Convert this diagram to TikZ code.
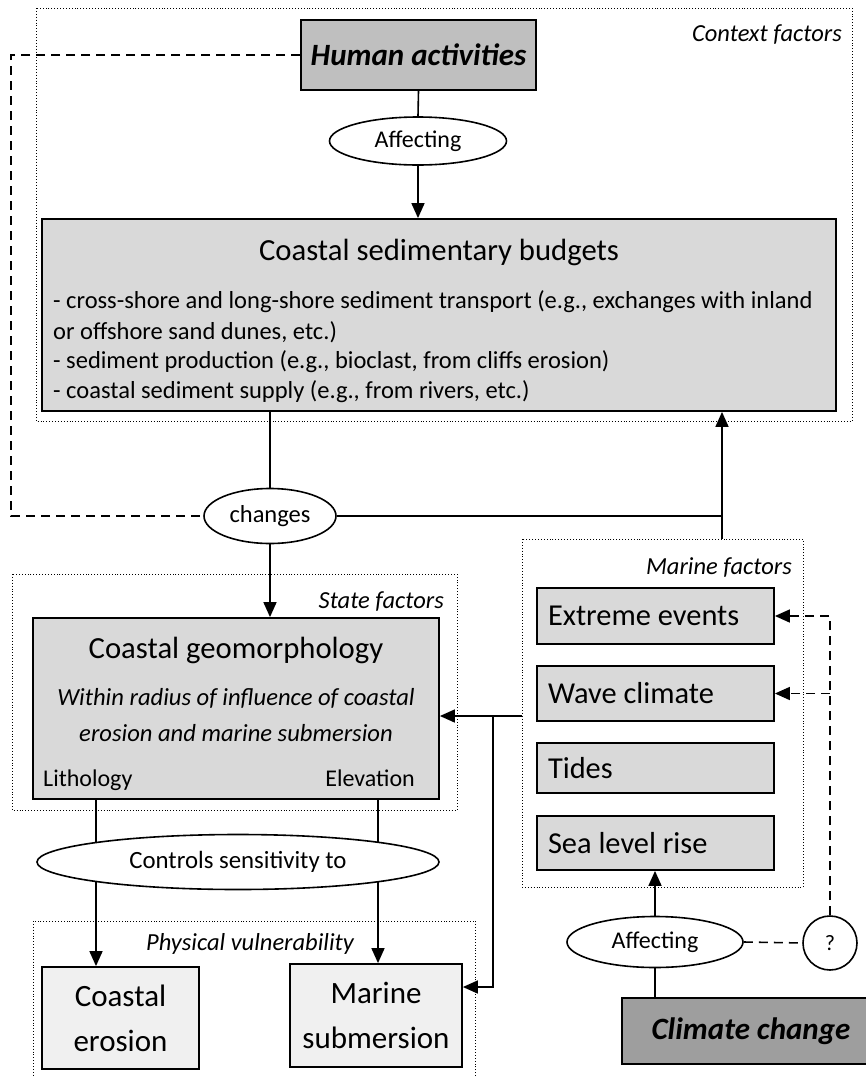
\documentclass[tikz,border=0pt]{standalone}
\usepackage{fontspec}
\setmainfont{Carlito}
\usetikzlibrary{arrows.meta,shapes.geometric}
\pgfdeclarelayer{bg}
\pgfsetlayers{bg,main}

\begin{document}
\begin{tikzpicture}[x=1pt,y=-1pt,
    box/.style={draw,line width=1.8pt,fill=#1,inner sep=0pt},
    box/.default=black!15,
    oval/.style={draw,ellipse,line width=1.6pt,fill=white,inner sep=0pt},
    txt/.style={inner sep=0pt},
    frame/.style={line width=0.9pt,dotted},
    link/.style={line width=1.6pt},
    arr/.style={link,-{Triangle[length=15pt,width=13pt]}},
    dashline/.style={link,dash pattern=on 9pt off 6pt}]
    \useasboundingbox (0,0) rectangle (866,1077);
    \begin{pgfonlayer}{bg}
      \fill[white] (0,0) rectangle (866,1077);
    \end{pgfonlayer}
    % dotted groups
    \draw[frame] (36,8) rectangle (852,421);
    \draw[frame] (12,574) rectangle (457,810);
    \draw[frame] (522,539) rectangle (803,887);
    \draw[frame] (33,921) rectangle (475,1082);
    \node[txt,anchor=east,font=\fontsize{24.5}{29}\selectfont\itshape] (ctxlabel) at (842,35) {Context factors};
    \node[txt,anchor=east,font=\fontsize{24.5}{29}\selectfont\itshape] (statelabel) at (444,602) {State factors};
    \node[txt,anchor=east,font=\fontsize{24.5}{29}\selectfont\itshape] (marinelabel) at (792,567) {Marine factors};
    \node[txt,font=\fontsize{24.5}{29}\selectfont\itshape] (physlabel) at (250,944) {Physical vulnerability};
    % top part
    \node[box=black!25,minimum width=235pt,minimum height=70pt,font=\fontsize{31}{37}\selectfont\bfseries\itshape] (human) at (418.5,55) {Human activities};
    \node[oval,minimum width=177pt,minimum height=48pt,font=\fontsize{24}{29}\selectfont] (aff1) at (418,141) {Affecting};
    \node[box,minimum width=794pt,minimum height=192pt] (budget) at (439,315) {};
    \node[txt,font=\fontsize{30.7}{37}\selectfont] (budgettitle) at (439,252) {Coastal sedimentary budgets};
    \node[txt,anchor=west,font=\fontsize{24.5}{30}\selectfont] (b1) at (53,302) {- cross-shore and long-shore sediment transport (e.g., exchanges with inland};
    \node[txt,anchor=west,font=\fontsize{24.5}{30}\selectfont] (b2) at (53,332) {or offshore sand dunes, etc.)};
    \node[txt,anchor=west,font=\fontsize{24.5}{30}\selectfont] (b3) at (53,362) {- sediment production (e.g., bioclast, from cliffs erosion)};
    \node[txt,anchor=west,font=\fontsize{24.5}{30}\selectfont] (b4) at (53,392) {- coastal sediment supply (e.g., from rivers, etc.)};
    \node[oval,minimum width=132pt,minimum height=55pt,font=\fontsize{24.5}{29}\selectfont] (changes) at (270,516) {changes};
    % state factors
    \node[box,minimum width=406pt,minimum height=181pt] (geo) at (236,708.5) {};
    \node[txt,font=\fontsize{30.7}{37}\selectfont] (geotitle) at (236,650) {Coastal geomorphology};
    \node[txt,font=\fontsize{24.6}{29}\selectfont\itshape] (geo1) at (236,698) {Within radius of influence of coastal};
    \node[txt,font=\fontsize{24.6}{29}\selectfont\itshape] (geo2) at (236,733) {erosion and marine submersion};
    \node[txt,anchor=base west,font=\fontsize{24}{29}\selectfont] (lithlabel) at (43,786) {Lithology};
    \node[txt,anchor=base east,font=\fontsize{24}{29}\selectfont] (elevlabel) at (415,786) {Elevation};
    \coordinate (lith) at (96,799);
    \coordinate (elev) at (378,799);
    % marine factors
    \node[box,minimum width=237pt,minimum height=56pt,text width=215pt,align=flush left,font=\fontsize{30.4}{36}\selectfont] (extreme) at (655.5,616) {Extreme events};
    \node[box,minimum width=237pt,minimum height=55pt,text width=215pt,align=flush left,font=\fontsize{30.4}{36}\selectfont] (wave) at (655.5,693.5) {Wave climate};
    \node[box,minimum width=237pt,minimum height=50pt,text width=215pt,align=flush left,font=\fontsize{30.4}{36}\selectfont] (tides) at (655.5,768) {Tides};
    \node[box,minimum width=237pt,minimum height=54pt,text width=215pt,align=flush left,font=\fontsize{30.4}{36}\selectfont] (slr) at (655.5,843) {Sea level rise};
    \coordinate (mtop) at (722,539);
    \coordinate (mleft) at (522,716);
    \coordinate (split) at (493,716);
    % bottom part
    \node[oval,minimum width=402pt,minimum height=55pt,font=\fontsize{24.8}{29}\selectfont] (ctrl) at (238,862) {Controls sensitivity to};
    \node[box=black!6,minimum width=157pt,minimum height=102pt,align=center,font=\fontsize{31}{45}\selectfont] (erosion) at (120.5,1018) {Coastal\\erosion};
    \node[box=black!6,minimum width=172pt,minimum height=103pt,align=center,font=\fontsize{31}{45}\selectfont] (subm) at (376,1015.5) {Marine\\submersion};
    \node[box=black!38,minimum width=258pt,minimum height=66pt,font=\fontsize{31}{37}\selectfont\bfseries\itshape] (climate) at (751,1031) {Climate change};
    \node[oval,minimum width=176pt,minimum height=51pt,font=\fontsize{24}{29}\selectfont] (aff2) at (655,942) {Affecting};
    \node[draw,circle,line width=1.6pt,fill=white,minimum size=54pt,inner sep=0pt,font=\fontsize{22}{26}\selectfont] (q) at (830,943) {?};
    % connectors
    \begin{pgfonlayer}{bg}
      \draw[link] (human.south) -- (aff1.north);
      \draw[arr] (aff1.south) -- (aff1.south |- budget.north);
      \draw[dashline] (human.west) -- ++(-289,0) |- (changes.west);
      \draw[link] (changes.north |- budget.south) -- (changes.north);
      \draw[link] (changes.east) -- (changes.east -| mtop);
      \draw[arr] (mtop) -- (mtop |- budget.south);
      \draw[arr] (changes.south) -- (changes.south |- geo.north);
      \draw[arr] (mleft) -- (mleft -| geo.east);
      \draw[arr] (split) |- ([yshift=28.5pt]subm.east);
      \draw[arr] (lith) -- (lith |- erosion.north);
      \draw[arr] (elev) -- (elev |- subm.north);
      \draw[link] (climate.north -| aff2.south) -- (aff2.south);
      \draw[arr] (aff2.north) -- (aff2.north |- slr.south);
      \draw[dashline] (aff2.east) -- (q.west);
      \draw[dashline,-{Triangle[length=15pt,width=13pt]}] (q.north) |- (extreme.east);
      \draw[dashline,-{Triangle[length=15pt,width=13pt]}] (q.north |- wave.east) -- (wave.east);
    \end{pgfonlayer}
\end{tikzpicture}
\end{document}
